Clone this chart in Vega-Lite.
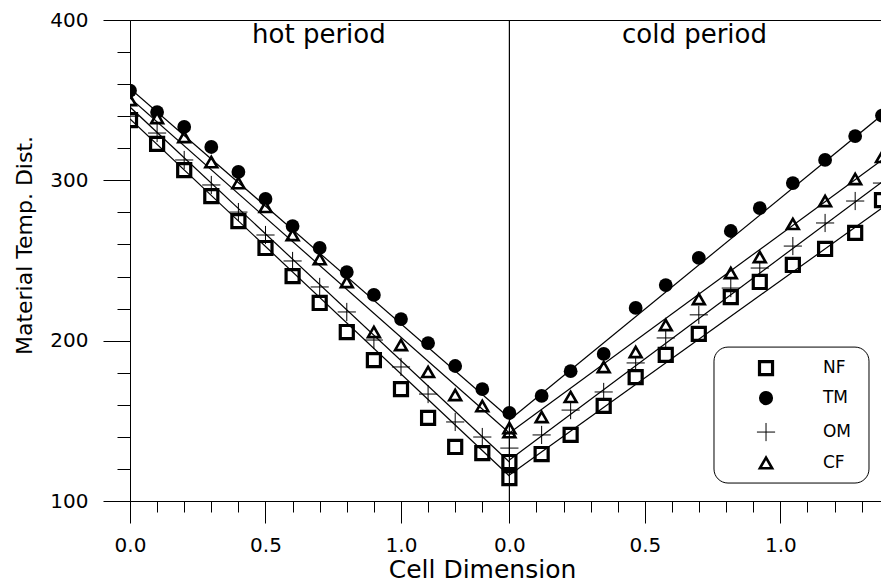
{
  "$schema": "https://vega.github.io/schema/vega-lite/v6.json",
  "width": 752,
  "height": 481,
  "autosize": {"type": "none"},
  "padding": {"left": 130, "top": 20, "right": 0, "bottom": 82},
  "background": "white",
  "config": {
    "view": {"stroke": "black", "strokeWidth": 1},
    "font": "DejaVu Sans",
    "axis": {"labelOverlap": false, "labelFlush": false, "grid": false, "tickColor": "black", "domainColor": "black"}
  },
  "resolve": {"axis": {"x": "independent", "y": "independent"}},
  "datasets": {
    "markers": [
      {"series": "NF", "u": 0, "v": 337.6}, {"series": "NF", "u": 0.1, "v": 322.7}, {"series": "NF", "u": 0.2, "v": 306.4}, {"series": "NF", "u": 0.3, "v": 290.2}, {"series": "NF", "u": 0.4, "v": 274.6}, {"series": "NF", "u": 0.5, "v": 257.8}, {"series": "NF", "u": 0.6, "v": 240.3}, {"series": "NF", "u": 0.7, "v": 223.5}, {"series": "NF", "u": 0.8, "v": 205.4}, {"series": "NF", "u": 0.9, "v": 187.9}, {"series": "NF", "u": 1.0, "v": 169.8}, {"series": "NF", "u": 1.1, "v": 151.8}, {"series": "NF", "u": 1.2, "v": 133.7}, {"series": "NF", "u": 1.3, "v": 129.9}, {"series": "NF", "u": 1.4, "v": 114.3},
      {"series": "NF", "u": 1.4, "v": 124.3}, {"series": "NF", "u": 1.519, "v": 129.3}, {"series": "NF", "u": 1.626, "v": 141.2}, {"series": "NF", "u": 1.748, "v": 159.3}, {"series": "NF", "u": 1.866, "v": 177.3}, {"series": "NF", "u": 1.977, "v": 191.1}, {"series": "NF", "u": 2.099, "v": 204.2}, {"series": "NF", "u": 2.217, "v": 227.2}, {"series": "NF", "u": 2.324, "v": 236.6}, {"series": "NF", "u": 2.446, "v": 247.2}, {"series": "NF", "u": 2.565, "v": 257.2}, {"series": "NF", "u": 2.676, "v": 267.2}, {"series": "NF", "u": 2.775, "v": 287.7},
      {"series": "TM", "u": 0, "v": 355.9}, {"series": "TM", "u": 0.1, "v": 342.6}, {"series": "TM", "u": 0.2, "v": 333.3}, {"series": "TM", "u": 0.3, "v": 320.8}, {"series": "TM", "u": 0.4, "v": 305.2}, {"series": "TM", "u": 0.5, "v": 288.4}, {"series": "TM", "u": 0.6, "v": 271.5}, {"series": "TM", "u": 0.7, "v": 257.8}, {"series": "TM", "u": 0.8, "v": 242.8}, {"series": "TM", "u": 0.9, "v": 228.5}, {"series": "TM", "u": 1.0, "v": 213.5}, {"series": "TM", "u": 1.1, "v": 198.5}, {"series": "TM", "u": 1.2, "v": 184.2}, {"series": "TM", "u": 1.3, "v": 169.8}, {"series": "TM", "u": 1.4, "v": 154.9},
      {"series": "TM", "u": 1.519, "v": 165.5}, {"series": "TM", "u": 1.626, "v": 181.0}, {"series": "TM", "u": 1.748, "v": 191.7}, {"series": "TM", "u": 1.866, "v": 220.4}, {"series": "TM", "u": 1.977, "v": 234.7}, {"series": "TM", "u": 2.099, "v": 251.6}, {"series": "TM", "u": 2.217, "v": 268.4}, {"series": "TM", "u": 2.324, "v": 282.7}, {"series": "TM", "u": 2.446, "v": 298.3}, {"series": "TM", "u": 2.565, "v": 312.7}, {"series": "TM", "u": 2.676, "v": 327.6}, {"series": "TM", "u": 2.775, "v": 340.4},
      {"series": "OM", "u": 0, "v": 340.0}, {"series": "OM", "u": 0.1, "v": 329.5}, {"series": "OM", "u": 0.2, "v": 312.7}, {"series": "OM", "u": 0.3, "v": 297.1}, {"series": "OM", "u": 0.4, "v": 280.2}, {"series": "OM", "u": 0.5, "v": 265.9}, {"series": "OM", "u": 0.6, "v": 249.7}, {"series": "OM", "u": 0.7, "v": 233.5}, {"series": "OM", "u": 0.8, "v": 217.9}, {"series": "OM", "u": 0.9, "v": 200.4}, {"series": "OM", "u": 1.0, "v": 183.6}, {"series": "OM", "u": 1.1, "v": 166.7}, {"series": "OM", "u": 1.2, "v": 149.3}, {"series": "OM", "u": 1.3, "v": 139.9}, {"series": "OM", "u": 1.4, "v": 133.0},
      {"series": "OM", "u": 1.519, "v": 141.2}, {"series": "OM", "u": 1.626, "v": 156.7}, {"series": "OM", "u": 1.748, "v": 168.0}, {"series": "OM", "u": 1.866, "v": 186.1}, {"series": "OM", "u": 1.977, "v": 201.7}, {"series": "OM", "u": 2.099, "v": 216.1}, {"series": "OM", "u": 2.217, "v": 232.8}, {"series": "OM", "u": 2.324, "v": 245.3}, {"series": "OM", "u": 2.446, "v": 259.0}, {"series": "OM", "u": 2.565, "v": 273.4}, {"series": "OM", "u": 2.676, "v": 287.1}, {"series": "OM", "u": 2.775, "v": 298.3},
      {"series": "CF", "u": 0, "v": 350.1}, {"series": "CF", "u": 0.1, "v": 338.9}, {"series": "CF", "u": 0.2, "v": 327.0}, {"series": "CF", "u": 0.3, "v": 311.4}, {"series": "CF", "u": 0.4, "v": 298.3}, {"series": "CF", "u": 0.5, "v": 283.4}, {"series": "CF", "u": 0.6, "v": 265.9}, {"series": "CF", "u": 0.7, "v": 250.9}, {"series": "CF", "u": 0.8, "v": 236.6}, {"series": "CF", "u": 0.9, "v": 205.4}, {"series": "CF", "u": 1.0, "v": 197.3}, {"series": "CF", "u": 1.1, "v": 180.5}, {"series": "CF", "u": 1.2, "v": 166.1}, {"series": "CF", "u": 1.3, "v": 159.2}, {"series": "CF", "u": 1.4, "v": 143.0},
      {"series": "CF", "u": 1.4, "v": 145.5}, {"series": "CF", "u": 1.519, "v": 152.4}, {"series": "CF", "u": 1.626, "v": 164.9}, {"series": "CF", "u": 1.748, "v": 183.6}, {"series": "CF", "u": 1.866, "v": 192.9}, {"series": "CF", "u": 1.977, "v": 209.8}, {"series": "CF", "u": 2.099, "v": 226.0}, {"series": "CF", "u": 2.217, "v": 242.2}, {"series": "CF", "u": 2.324, "v": 252.2}, {"series": "CF", "u": 2.446, "v": 272.8}, {"series": "CF", "u": 2.565, "v": 287.1}, {"series": "CF", "u": 2.676, "v": 300.8}, {"series": "CF", "u": 2.775, "v": 314.6}
    ],
    "fits": [
      {"seg": "NF-hot", "u": 0, "v": 338.3}, {"seg": "NF-hot", "u": 1.4, "v": 115.6},
      {"seg": "OM-hot", "u": 0, "v": 345.7}, {"seg": "OM-hot", "u": 1.4, "v": 124.3},
      {"seg": "CF-hot", "u": 0, "v": 351.4}, {"seg": "CF-hot", "u": 1.4, "v": 142.4},
      {"seg": "TM-hot", "u": 0, "v": 357.3}, {"seg": "TM-hot", "u": 1.4, "v": 151.8},
      {"seg": "TM-cold", "u": 1.4, "v": 150.5}, {"seg": "TM-cold", "u": 2.775, "v": 340.7},
      {"seg": "CF-cold", "u": 1.4, "v": 142.4}, {"seg": "CF-cold", "u": 2.775, "v": 312.7},
      {"seg": "OM-cold", "u": 1.4, "v": 125.6}, {"seg": "OM-cold", "u": 2.775, "v": 299.0},
      {"seg": "NF-cold", "u": 1.4, "v": 116.2}, {"seg": "NF-cold", "u": 2.775, "v": 282.7}
    ]
  },
  "layer": [
    {
      "data": {"name": "markers"},
      "mark": {"type": "point", "filled": true, "opacity": 1, "clip": true},
      "encoding": {
        "x": {
          "field": "u", "type": "quantitative",
          "scale": {"domain": [0, 2.775], "nice": false, "zero": false},
          "axis": {
            "orient": "bottom",
            "values": [0, 0.5, 1, 1.4, 1.9, 2.4],
            "tickSize": 22,
            "labelExpr": "datum.value == 0 ? '0.0' : datum.value == 0.5 ? '0.5' : datum.value == 1 ? '1.0' : datum.value == 1.4 ? '0.0' : datum.value == 1.9 ? '0.5' : '1.0'",
            "labelOverlap": false,
            "labelFont": "DejaVu Sans",
            "labelFontSize": 20,
            "labelColor": "black",
            "labelPadding": 12,
            "title": "Cell Dimension",
            "titleFont": "DejaVu Sans",
            "titleFontSize": 25,
            "titleFontWeight": "normal",
            "titleColor": "black",
            "titleX": 352,
            "titleY": 76,
            "titleAlign": "center",
            "titleBaseline": "alphabetic"
          }
        },
        "y": {
          "field": "v", "type": "quantitative",
          "scale": {"domain": [100, 400], "nice": false, "zero": false},
          "axis": {
            "orient": "left",
            "values": [100, 200, 300, 400],
            "tickSize": 27,
            "labelOverlap": false,
            "labelFont": "DejaVu Sans",
            "labelFontSize": 20,
            "labelColor": "black",
            "labelPadding": 15,
            "title": "Material Temp. Dist.",
            "titleFont": "DejaVu Sans",
            "titleFontSize": 22,
            "titleFontWeight": "normal",
            "titleColor": "black",
            "titleAngle": -90,
            "titleX": -99,
            "titleY": 225,
            "titleAlign": "center",
            "titleBaseline": "alphabetic"
          }
        },
        "shape": {
          "field": "series", "type": "nominal",
          "scale": {"domain": ["NF", "TM", "OM", "CF"], "range": ["square", "circle", "M-1,0H1M0,-1V1", "triangle-up"]},
          "legend": null
        },
        "fill": {
          "field": "series", "type": "nominal",
          "scale": {"domain": ["NF", "TM", "OM", "CF"], "range": ["white", "black", "white", "white"]},
          "legend": null
        },
        "stroke": {"value": "black"},
        "strokeWidth": {
          "field": "series", "type": "nominal",
          "scale": {"type": "ordinal", "domain": ["NF", "TM", "OM", "CF"], "range": [3.2, 0, 1, 2.6]},
          "legend": null
        },
        "size": {
          "field": "series", "type": "nominal",
          "scale": {"type": "ordinal", "domain": ["NF", "TM", "OM", "CF"], "range": [170, 190, 330, 140]},
          "legend": null
        }
      }
    },
    {
      "data": {"name": "fits"},
      "mark": {"type": "line", "color": "black", "strokeWidth": 1.2, "clip": true},
      "encoding": {
        "x": {
          "field": "u", "type": "quantitative",
          "axis": {
            "orient": "bottom",
            "values": [0.1, 0.2, 0.3, 0.4, 0.6, 0.7, 0.8, 0.9, 1.1, 1.2, 1.3, 1.5, 1.6, 1.7, 1.8, 2, 2.1, 2.2, 2.3, 2.5, 2.6, 2.7],
            "tickSize": 11,
            "labels": false,
            "domain": false,
            "title": null
          }
        },
        "y": {
          "field": "v", "type": "quantitative",
          "axis": {
            "orient": "left",
            "values": [120, 140, 160, 180, 220, 240, 260, 280, 320, 340, 360, 380],
            "tickSize": 13,
            "labels": false,
            "domain": false,
            "title": null
          }
        },
        "detail": {"field": "seg", "type": "nominal"}
      }
    },
    {
      "data": {"values": [{"label": "divider"}]},
      "mark": {"type": "rule", "color": "black", "strokeWidth": 1.2},
      "encoding": {
        "x": {"datum": 1.4, "type": "quantitative", "axis": null}
      }
    },
    {
      "data": {"values": [{"label": "hot period"}]},
      "mark": {"type": "text", "font": "DejaVu Sans", "fontSize": 26, "align": "center", "baseline": "alphabetic", "color": "black"},
      "encoding": {
        "x": {"datum": 0.697, "type": "quantitative", "axis": null},
        "y": {"datum": 385.7, "type": "quantitative", "axis": null},
        "text": {"field": "label"}
      }
    },
    {
      "data": {"values": [{"label": "cold period"}]},
      "mark": {"type": "text", "font": "DejaVu Sans", "fontSize": 26, "align": "center", "baseline": "alphabetic", "color": "black"},
      "encoding": {
        "x": {"datum": 2.083, "type": "quantitative", "axis": null},
        "y": {"datum": 385.7, "type": "quantitative", "axis": null},
        "text": {"field": "label"}
      }
    },
    {
      "data": {"values": [{"label": "legend"}]},
      "mark": {"type": "rect", "fill": "white", "stroke": "black", "strokeWidth": 1, "cornerRadius": 14},
      "encoding": {
        "x": {"datum": 2.155, "type": "quantitative", "axis": null},
        "x2": {"datum": 2.727},
        "y": {"datum": 196.0, "type": "quantitative", "axis": null},
        "y2": {"datum": 111.2}
      }
    },
    {
      "data": {"values": [{"series": "NF"}]},
      "mark": {"type": "point", "filled": true, "opacity": 1, "shape": "square", "fill": "white", "stroke": "black", "strokeWidth": 3.2, "size": 170},
      "encoding": {
        "x": {"datum": 2.347, "type": "quantitative", "axis": null},
        "y": {"datum": 182.9, "type": "quantitative", "axis": null}
      }
    },
    {
      "data": {"values": [{"series": "TM"}]},
      "mark": {"type": "point", "filled": true, "opacity": 1, "shape": "circle", "fill": "black", "strokeWidth": 0, "size": 200},
      "encoding": {
        "x": {"datum": 2.347, "type": "quantitative", "axis": null},
        "y": {"datum": 164.2, "type": "quantitative", "axis": null}
      }
    },
    {
      "data": {"values": [{"series": "OM"}]},
      "mark": {"type": "point", "filled": true, "opacity": 1, "shape": "M-1,0H1M0,-1V1", "fill": "white", "stroke": "black", "strokeWidth": 1, "size": 330},
      "encoding": {
        "x": {"datum": 2.347, "type": "quantitative", "axis": null},
        "y": {"datum": 143.0, "type": "quantitative", "axis": null}
      }
    },
    {
      "data": {"values": [{"series": "CF"}]},
      "mark": {"type": "point", "filled": true, "opacity": 1, "shape": "triangle-up", "fill": "white", "stroke": "black", "strokeWidth": 2.6, "size": 150},
      "encoding": {
        "x": {"datum": 2.347, "type": "quantitative", "axis": null},
        "y": {"datum": 123.7, "type": "quantitative", "axis": null}
      }
    },
    {
      "data": {"values": [{"series": "NF"}]},
      "mark": {"type": "text", "font": "DejaVu Sans", "fontSize": 17, "align": "left", "baseline": "middle", "color": "black"},
      "encoding": {
        "x": {"datum": 2.557, "type": "quantitative", "axis": null},
        "y": {"datum": 182.9, "type": "quantitative", "axis": null},
        "text": {"field": "series"}
      }
    },
    {
      "data": {"values": [{"series": "TM"}]},
      "mark": {"type": "text", "font": "DejaVu Sans", "fontSize": 17, "align": "left", "baseline": "middle", "color": "black"},
      "encoding": {
        "x": {"datum": 2.557, "type": "quantitative", "axis": null},
        "y": {"datum": 164.2, "type": "quantitative", "axis": null},
        "text": {"field": "series"}
      }
    },
    {
      "data": {"values": [{"series": "OM"}]},
      "mark": {"type": "text", "font": "DejaVu Sans", "fontSize": 17, "align": "left", "baseline": "middle", "color": "black"},
      "encoding": {
        "x": {"datum": 2.557, "type": "quantitative", "axis": null},
        "y": {"datum": 143.0, "type": "quantitative", "axis": null},
        "text": {"field": "series"}
      }
    },
    {
      "data": {"values": [{"series": "CF"}]},
      "mark": {"type": "text", "font": "DejaVu Sans", "fontSize": 17, "align": "left", "baseline": "middle", "color": "black"},
      "encoding": {
        "x": {"datum": 2.557, "type": "quantitative", "axis": null},
        "y": {"datum": 123.7, "type": "quantitative", "axis": null},
        "text": {"field": "series"}
      }
    }
  ]
}
